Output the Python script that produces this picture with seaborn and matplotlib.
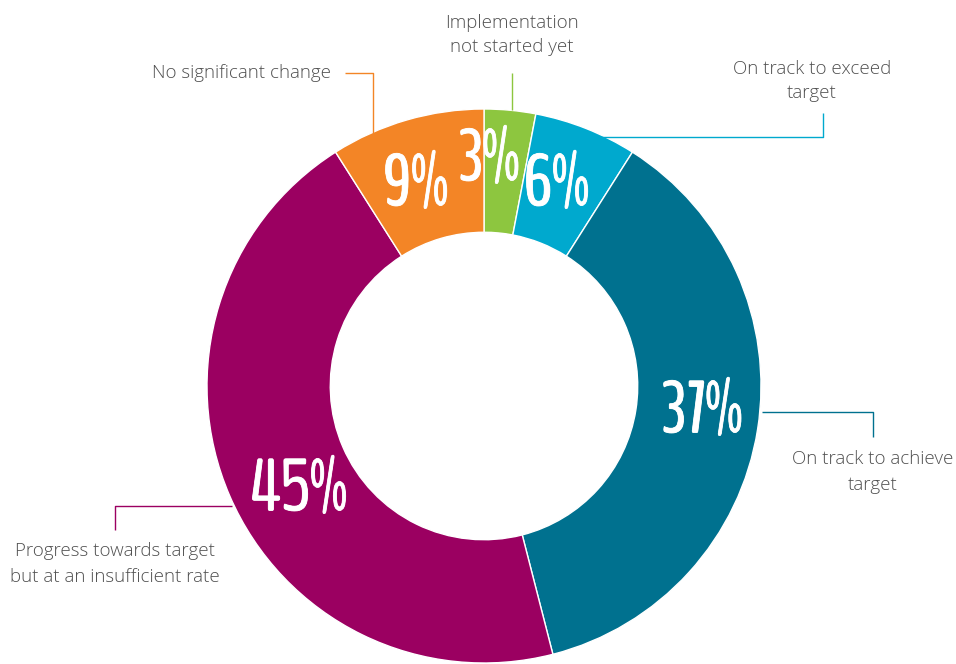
import matplotlib
matplotlib.use("Agg")
import matplotlib.pyplot as plt
import matplotlib.patheffects as pe
import seaborn as sns

# data, clockwise from 12 o'clock
categories = [
    "Implementation\nnot started yet",
    "On track to exceed\ntarget",
    "On track to achieve\ntarget",
    "Progress towards target\nbut at an insufficient rate",
    "No significant change",
]
shares = [3, 6, 37, 45, 9]
pct_labels = ["3%", "6%", "37%", "45%", "9%"]
colors = ["#8dc63f", "#00a9ce", "#00718f", "#9b0061", "#f38526"]

sns.set_theme(style="white")

H = 664
fig = plt.figure(figsize=(9.56, 6.64), dpi=100)
ax = fig.add_axes([0, 0, 1, 1])

cx, cy, r = 484, H - 386, 277
ax.pie(shares, colors=colors, startangle=90, counterclock=False,
       radius=r, center=(cx, cy), frame=True,
       wedgeprops=dict(width=r * 0.445, edgecolor="white", linewidth=1))
ax.set_xlim(0, 956)
ax.set_ylim(0, H)
ax.set_aspect("equal")
ax.axis("off")

# big percentage labels inside the ring
pct_font = dict(family=["BenchNine", "Pathway Gothic One", "DejaVu Sans"], fontsize=53,
                color="white", ha="center", va="center",
                path_effects=[pe.withStroke(linewidth=0.6, foreground="white")])
pct_pos = [(489, 161), (556, 186), (702, 413), (298, 491), (415, 186)]
for (x, y), t in zip(pct_pos, pct_labels):
    ax.text(x, H - y, t, **pct_font)

# category labels with elbow leader lines
lab_font = dict(family=["Open Sans", "DejaVu Sans"], fontweight="light",
                fontsize=13.5, color="#505050", linespacing=1.5)
lw = 1.0


def leader(xs, ys, color):
    ax.plot(xs, [H - y for y in ys], color=color, lw=lw, solid_capstyle="butt")


leader([512, 512], [110, 73], colors[0])
ax.text(512, H - 35, categories[0], ha="center", va="center", **lab_font)

leader([583, 823, 823], [137, 137, 113], colors[1])
ax.text(812, H - 81, categories[1], ha="center", va="center", **lab_font)

leader([762, 873, 873], [412, 412, 437], colors[2])
ax.text(873, H - 472, categories[2], ha="center", va="center", **lab_font)

leader([232, 115, 115], [506, 506, 530], colors[3])
ax.text(115, H - 564, categories[3], ha="center", va="center", **lab_font)

leader([345, 373, 373], [73, 73, 135], colors[4])
ax.text(331, H - 73, categories[4], ha="right", va="center", **lab_font)

fig.savefig("out.png", dpi=100)
